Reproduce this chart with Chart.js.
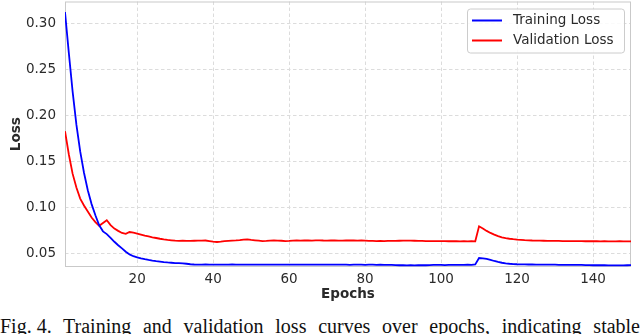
<!DOCTYPE html>
<html>
<head>
<meta charset="utf-8">
<script src="https://cdn.jsdelivr.net/npm/chart.js@4.4.1/dist/chart.umd.min.js"></script>
<style>
html,body{margin:0;padding:0;background:#fff;width:640px;height:334px;overflow:hidden;}
#wrap{position:absolute;left:0;top:0;width:640px;height:305px;}
#cap{position:absolute;left:0;top:316px;width:640px;font-family:"Liberation Serif","Times New Roman",serif;font-size:20px;line-height:20px;text-align:justify;text-align-last:justify;color:#111;}
#cap span{display:inline-block;white-space:pre;}
</style>
</head>
<body>
<div id="wrap"><canvas id="c" width="640" height="305"></canvas></div>
<div id="cap"><span>Fig. 4.</span> Training and validation loss curves over epochs, indicating stable</div>
<script>
// ---- data ----
const epochs = Array.from({length: 150}, (_, i) => i + 1);

const trainingLoss = [
  0.312, 0.268, 0.226, 0.190, 0.161, 0.138, 0.119, 0.104, 0.092, 0.081,
  0.0745, 0.0715, 0.0675, 0.0632, 0.0595, 0.0560, 0.0525, 0.0495, 0.0476, 0.0463,
  0.0452, 0.0443, 0.0435, 0.0428, 0.0422, 0.0417, 0.0412, 0.0408, 0.0405, 0.0402,
  0.0401, 0.0399, 0.0394, 0.0389, 0.0386, 0.0385, 0.0385, 0.0386, 0.0385, 0.0384,
  0.0385, 0.0385, 0.0384, 0.0385, 0.0386, 0.0385, 0.0384, 0.0385, 0.0385, 0.0384,
  0.0385, 0.0384, 0.0385, 0.0385, 0.0384, 0.0385, 0.0385, 0.0384, 0.0385, 0.0385,
  0.0384, 0.0385, 0.0385, 0.0384, 0.0385, 0.0384, 0.0385, 0.0385, 0.0384, 0.0384,
  0.0385, 0.0384, 0.0384, 0.0385, 0.0384, 0.0383, 0.0384, 0.0385, 0.0384, 0.0383,
  0.0384, 0.0384, 0.0383, 0.0384, 0.0383, 0.0382, 0.0381, 0.0379, 0.0378, 0.0378,
  0.0377, 0.0378, 0.0377, 0.0378, 0.0379, 0.0378, 0.0379, 0.0381, 0.0382, 0.0381,
  0.0380, 0.0381, 0.0382, 0.0383, 0.0382, 0.0383, 0.0384, 0.0383, 0.0386, 0.0456,
  0.0452, 0.0447, 0.0436, 0.0424, 0.0414, 0.0405, 0.0399, 0.0394, 0.0391, 0.0389,
  0.0388, 0.0387, 0.0386, 0.0386, 0.0385, 0.0385, 0.0385, 0.0384, 0.0384, 0.0384,
  0.0383, 0.0383, 0.0383, 0.0382, 0.0382, 0.0381, 0.0381, 0.0380, 0.0379, 0.0378,
  0.0378, 0.0379, 0.0378, 0.0377, 0.0376, 0.0377, 0.0376, 0.0377, 0.0378, 0.0379
];

const validationLoss = [
  0.183, 0.158, 0.137, 0.122, 0.110, 0.1025, 0.096, 0.0895, 0.0845, 0.0805,
  0.0835, 0.0865, 0.0812, 0.0775, 0.0750, 0.0728, 0.0718, 0.0738, 0.0730, 0.0721,
  0.0710, 0.0699, 0.0690, 0.0681, 0.0673, 0.0665, 0.0658, 0.0652, 0.0648, 0.0644,
  0.0642, 0.0645, 0.0642, 0.0641, 0.0643, 0.0645, 0.0644, 0.0646, 0.0640, 0.0633,
  0.0630, 0.0634, 0.0639, 0.0642, 0.0645, 0.0647, 0.0650, 0.0655, 0.0657, 0.0652,
  0.0648, 0.0644, 0.0640, 0.0641, 0.0644, 0.0646, 0.0645, 0.0643, 0.0640, 0.0641,
  0.0644, 0.0646, 0.0645, 0.0647, 0.0646, 0.0645, 0.0647, 0.0648, 0.0646, 0.0645,
  0.0646, 0.0647, 0.0645, 0.0644, 0.0646, 0.0647, 0.0646, 0.0645, 0.0646, 0.0645,
  0.0642, 0.0641, 0.0640, 0.0641, 0.0640, 0.0641, 0.0642, 0.0641, 0.0643, 0.0644,
  0.0645, 0.0644, 0.0643, 0.0642, 0.0641, 0.0640, 0.0639, 0.0640, 0.0639, 0.0640,
  0.0639, 0.0638, 0.0639, 0.0638, 0.0637, 0.0638, 0.0637, 0.0638, 0.0637, 0.0800,
  0.0776, 0.0750, 0.0728, 0.0709, 0.0693, 0.0681, 0.0672, 0.0665, 0.0660, 0.0656,
  0.0653, 0.0650, 0.0648, 0.0646, 0.0645, 0.0644, 0.0643, 0.0642, 0.0642, 0.0641,
  0.0641, 0.0640, 0.0640, 0.0640, 0.0639, 0.0639, 0.0639, 0.0638, 0.0638, 0.0638,
  0.0638, 0.0637, 0.0638, 0.0637, 0.0637, 0.0637, 0.0638, 0.0637, 0.0637, 0.0637
];

const xTickValues = [20, 40, 60, 80, 100, 120, 140];
const yTickValues = [0.05, 0.10, 0.15, 0.20, 0.25, 0.30];
const seriesLabels = ['Training Loss', 'Validation Loss'];

// ---- styling ----
const FONT = '"DejaVu Sans", Verdana, sans-serif';
const TXT = '#2a2a2a';
const GRID = '#dcdcdc';

const framePlugin = {
  id: 'frame',
  beforeDatasetsDraw(chart) {
    const {ctx, chartArea: a} = chart;
    ctx.save();
    ctx.strokeStyle = '#c9c9c9';
    ctx.lineWidth = 1;
    ctx.strokeRect(a.left + 0.5, a.top + 0.5, a.right - a.left - 1, a.bottom - a.top - 1);
    ctx.restore();
  }
};

const legendPlugin = {
  id: 'boxLegend',
  afterDraw(chart) {
    const {ctx, chartArea: a} = chart;
    const w = 157, h = 44;
    const x0 = a.right - 7 - w, y0 = a.top + 7;
    ctx.save();
    ctx.beginPath();
    ctx.roundRect(x0 + 0.5, y0 + 0.5, w, h, 3);
    ctx.fillStyle = 'rgba(255,255,255,0.85)';
    ctx.fill();
    ctx.strokeStyle = '#cccccc';
    ctx.lineWidth = 1;
    ctx.stroke();
    ctx.font = '13.5px ' + FONT;
    ctx.textBaseline = 'middle';
    ctx.textAlign = 'left';
    chart.data.datasets.forEach((ds, i) => {
      const yy = y0 + 12 + i * 20;
      ctx.strokeStyle = ds.borderColor;
      ctx.lineWidth = 2;
      ctx.beginPath();
      ctx.moveTo(x0 + 5, yy);
      ctx.lineTo(x0 + 35, yy);
      ctx.stroke();
      ctx.fillStyle = TXT;
      ctx.fillText(ds.label, x0 + 46, yy);
    });
    ctx.restore();
  }
};

new Chart(document.getElementById('c'), {
  type: 'line',
  data: {
    datasets: [
      {
        label: seriesLabels[0],
        data: epochs.map((e, i) => ({x: e, y: trainingLoss[i]})),
        borderColor: '#0000ff',
        borderWidth: 1.8,
        pointRadius: 0,
        tension: 0,
        fill: false
      },
      {
        label: seriesLabels[1],
        data: epochs.map((e, i) => ({x: e, y: validationLoss[i]})),
        borderColor: '#ff0000',
        borderWidth: 1.8,
        pointRadius: 0,
        tension: 0,
        fill: false
      }
    ]
  },
  options: {
    responsive: false,
    animation: false,
    devicePixelRatio: 1,
    layout: {padding: {top: 1.5, right: 9, left: 0, bottom: 0}},
    plugins: {legend: {display: false}, tooltip: {enabled: false}},
    scales: {
      x: {
        type: 'linear',
        min: 1,
        max: 150,
        afterBuildTicks: s => { s.ticks = xTickValues.map(v => ({value: v})); },
        afterFit: s => { s.height = 38; s.paddingLeft = 0; s.paddingRight = 0; },
        ticks: {
          autoSkip: false, maxRotation: 0, padding: 4,
          color: TXT, font: {family: FONT, size: 13.5},
          callback: v => String(v)
        },
        grid: {color: GRID, lineWidth: 1, drawTicks: false},
        border: {display: false, dash: [3.5, 2.5]},
        title: {
          display: true, text: 'Epochs', color: TXT,
          font: {family: FONT, size: 13.5, weight: 'bold'},
          padding: {top: 0, bottom: 2}
        }
      },
      y: {
        type: 'linear',
        min: 0.0359,
        max: 0.3234,
        afterBuildTicks: s => { s.ticks = yTickValues.map(v => ({value: v})); },
        afterFit: s => { s.width = 65; s.paddingTop = 0; s.paddingBottom = 0; },
        ticks: {
          padding: 9, color: TXT, font: {family: FONT, size: 13.5},
          callback: v => Number(v).toFixed(2)
        },
        grid: {color: GRID, lineWidth: 1, drawTicks: false},
        border: {display: false, dash: [3.5, 2.5]},
        title: {
          display: true, text: 'Loss', color: TXT,
          font: {family: FONT, size: 13.5, weight: 'bold'},
          padding: {top: 8.4, bottom: 0}
        }
      }
    }
  },
  plugins: [framePlugin, legendPlugin]
});
</script>
</body>
</html>
